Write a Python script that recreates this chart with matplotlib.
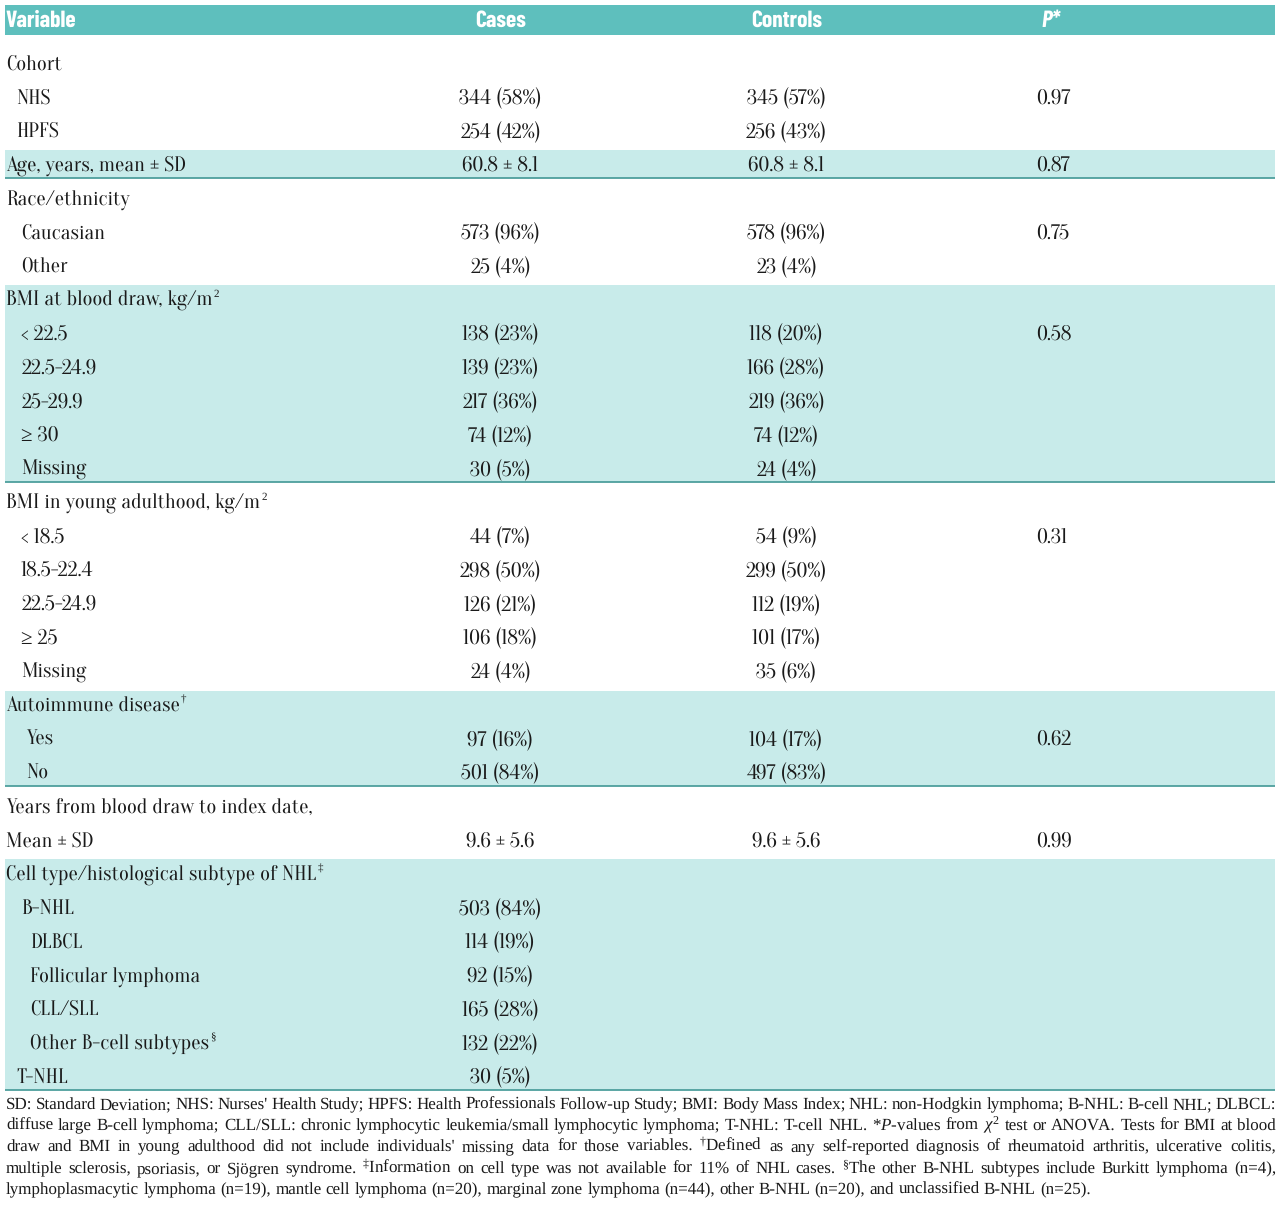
# coding: utf-8
"""
Table of case/control characteristics drawn with matplotlib text and patches.
"""
import matplotlib
matplotlib.use("Agg")
import matplotlib.pyplot as plt
from matplotlib.patches import Rectangle

plt.rcParams["mathtext.fontset"] = "custom"
plt.rcParams["mathtext.rm"] = "Liberation Serif"
plt.rcParams["mathtext.it"] = "Liberation Serif:italic"
plt.rcParams["mathtext.bf"] = "Liberation Serif:bold"
plt.rcParams["text.hinting"] = "no_hinting"   # keeps word baselines consistent
plt.rcParams["text.hinting_factor"] = 1

# ---- data ----
headers = ["Variable", "Cases", "Controls", "P*"]

labels = [
    "Cohort", "NHS", "HPFS",
    "Age, years, mean ± SD",
    "Race/ethnicity", "Caucasian", "Other",
    "BMI at blood draw, kg/m", "< 22.5", "22.5-24.9", "25-29.9", "≥ 30", "Missing",
    "BMI in young adulthood, kg/m", "< 18.5", "18.5-22.4", "22.5-24.9", "≥ 25", "Missing",
    "Autoimmune disease", "Yes", "No",
    "Years from blood draw to index date,", "Mean ± SD",
    "Cell type/histological subtype of NHL", "B-NHL", "DLBCL",
    "Follicular lymphoma", "CLL/SLL", "Other B-cell subtypes", "T-NHL",
]
label_sup = ["", "", "", "", "", "", "",
             "2", "", "", "", "", "",
             "2", "", "", "", "", "",
             "†", "", "", "", "",
             "‡", "", "", "", "", "§", ""]
indent_level = [0, 1, 1, 0, 0, 2, 2, 0, 2, 2, 2, 2, 2, 0, 2, 2, 2, 2, 2,
                0, 3, 3, 0, 0, 0, 2, 4, 4, 4, 4, 1]
cases = [
    "", "344 (58%)", "254 (42%)", "60.8 ± 8.1", "", "573 (96%)", "25 (4%)",
    "", "138 (23%)", "139 (23%)", "217 (36%)", "74 (12%)", "30 (5%)",
    "", "44 (7%)", "298 (50%)", "126 (21%)", "106 (18%)", "24 (4%)",
    "", "97 (16%)", "501 (84%)", "", "9.6 ± 5.6",
    "", "503 (84%)", "114 (19%)", "92 (15%)", "165 (28%)", "132 (22%)", "30 (5%)",
]
controls = [
    "", "345 (57%)", "256 (43%)", "60.8 ± 8.1", "", "578 (96%)", "23 (4%)",
    "", "118 (20%)", "166 (28%)", "219 (36%)", "74 (12%)", "24 (4%)",
    "", "54 (9%)", "299 (50%)", "112 (19%)", "101 (17%)", "35 (6%)",
    "", "104 (17%)", "497 (83%)", "", "9.6 ± 5.6",
    "", "", "", "", "", "", "",
]
pvalues = [
    "", "0.97", "", "0.87", "", "0.75", "",
    "", "0.58", "", "", "", "",
    "", "0.31", "", "", "", "",
    "", "0.62", "", "", "0.99",
    "", "", "", "", "", "", "",
]
# shaded groups (first row, last row)
shaded = [(3, 3), (7, 12), (19, 21), (24, 30)]

footnotes = [
    "SD: Standard Deviation; NHS: Nurses' Health Study; HPFS: Health Professionals "
    "Follow-up Study; BMI: Body Mass Index; NHL: non-Hodgkin lymphoma; B-NHL: B-cell NHL; DLBCL:",
    "diffuse large B-cell lymphoma; CLL/SLL: chronic lymphocytic leukemia/small lymphocytic "
    "lymphoma; T-NHL: T-cell NHL. *$P$-values from $\\chi^{2}$ test or ANOVA. Tests for BMI at blood",
    "draw and BMI in young adulthood did not include individuals' missing data for those "
    "variables. $^{\\dagger}$Defined as any self-reported diagnosis of rheumatoid arthritis, ulcerative colitis,",
    "multiple sclerosis, psoriasis, or Sjögren syndrome. $^{\\ddagger}$Information on cell type "
    "was not available for 11% of NHL cases. $^{\\S}$The other B-NHL subtypes include Burkitt lymphoma (n=4),",
    "lymphoplasmacytic lymphoma (n=19), mantle cell lymphoma (n=20), marginal zone lymphoma "
    "(n=44), other B-NHL (n=20), and unclassified B-NHL (n=25).",
]

# ---- style ----
W, H = 1280, 1208
HEAD_COLOR = "#5ebfbd"
BAND_COLOR = "#c8ebea"
LINE_COLOR = "#4e9f9d"
TEXT_COLOR = "#1a1a1a"
BODY_FONT = ["Oranienbaum", "Liberation Serif", "DejaVu Serif"]
NOTE_FONT = ["Liberation Serif", "DejaVu Serif"]
HEAD_FONT = ["Barlow Condensed", "Roboto Condensed", "Liberation Sans", "DejaVu Sans"]
X_LEFT, X_RIGHT = 5, 1275
X_CASES, X_CONTROLS, X_P = 500, 786, 1036
INDENT_PX = {0: 6, 1: 16, 2: 21, 3: 26, 4: 30}
ROW0, ROW_STEP = 61.0, 33.77
BASE_OFF = 8.5   # baseline below the row centre
MIN_GAP = 2.2    # smallest word gap allowed in the justified footnote


def row_y(i):
    return ROW0 + i * ROW_STEP


def text_width(fig, ax, s, fs, family, **kw):
    renderer = fig.canvas.get_renderer()
    t = ax.text(0, 0, s, family=family, fontsize=fs, **kw)
    w = t.get_window_extent(renderer).width
    t.remove()
    return w


def draw_table(fig, ax):
    # font sizes fitted to widths measured on the reference
    body_fs = 10 * 184 / text_width(fig, ax, "Age, years, mean ± SD", 10, BODY_FONT)
    head_fs = 10 * 71 / text_width(fig, ax, "Controls", 10, HEAD_FONT, weight="bold")

    # header band
    ax.add_patch(Rectangle((X_LEFT, 5), X_RIGHT - X_LEFT, 30, color=HEAD_COLOR, lw=0))
    hb = 27
    kw = dict(color="white", family=HEAD_FONT, weight="bold", fontsize=head_fs,
              va="baseline")
    ax.text(5, hb, headers[0], ha="left", **kw)
    ax.text(X_CASES + 1, hb, headers[1], ha="center", **kw)
    ax.text(X_CONTROLS + 1, hb, headers[2], ha="center", **kw)
    ax.text(1041, hb, headers[3], ha="left", style="italic", **kw)

    # shaded bands with a rule below each
    for first, last in shaded:
        top = row_y(first) - 12
        bottom = row_y(last) + 16
        ax.add_patch(Rectangle((X_LEFT, top), X_RIGHT - X_LEFT, bottom - top,
                               color=BAND_COLOR, lw=0))
        ax.plot([X_LEFT, X_RIGHT], [bottom, bottom], color=LINE_COLOR, lw=1.3,
                solid_capstyle="butt")

    kw = dict(family=BODY_FONT, fontsize=body_fs, color=TEXT_COLOR, va="baseline")
    for i, lab in enumerate(labels):
        y = row_y(i) + BASE_OFF
        x0 = INDENT_PX[indent_level[i]]
        ax.text(x0, y, lab, ha="left", **kw)
        if label_sup[i]:
            lw = text_width(fig, ax, lab, body_fs, BODY_FONT)
            ax.text(x0 + lw + 1, y - 9, label_sup[i], family=NOTE_FONT,
                    fontsize=body_fs * 0.5, color=TEXT_COLOR, va="baseline", ha="left")
        if cases[i]:
            ax.text(X_CASES, y, cases[i], ha="center", **kw)
        if controls[i]:
            ax.text(X_CONTROLS, y, controls[i], ha="center", **kw)
        if pvalues[i]:
            ax.text(X_P, y, pvalues[i], ha="left", **kw)


def draw_footnotes(fig, ax):
    # largest size that lets the last line end near x=1140 and keeps
    # every justified line's word gaps at least MIN_GAP wide
    fs0 = 12.0
    sizes = [fs0 * (1140 - X_LEFT) / text_width(fig, ax, footnotes[-1], fs0, NOTE_FONT)]
    for line in footnotes[:-1]:
        words = line.split(" ")
        total = sum(text_width(fig, ax, w, fs0, NOTE_FONT) for w in words)
        sizes.append(fs0 * (X_RIGHT - X_LEFT - MIN_GAP * (len(words) - 1)) / total)
    fs = min(sizes)
    space = (text_width(fig, ax, "a a", fs, NOTE_FONT)
             - text_width(fig, ax, "aa", fs, NOTE_FONT))

    ys = [1104, 1125, 1146, 1168, 1189]
    for k, line in enumerate(footnotes):
        words = line.split(" ")
        widths = [text_width(fig, ax, w, fs, NOTE_FONT) for w in words]
        if k < len(footnotes) - 1:
            gap = (X_RIGHT - X_LEFT - sum(widths)) / (len(words) - 1)
        else:
            gap = space
        x = X_LEFT + 1
        for w, wd in zip(words, widths):
            ax.text(x, ys[k] + 5, w, family=NOTE_FONT, fontsize=fs,
                    color=TEXT_COLOR, va="baseline", ha="left")
            x += wd + gap


def main():
    fig = plt.figure(figsize=(W / 100, H / 100), dpi=100)
    ax = fig.add_axes([0, 0, 1, 1])
    ax.set_xlim(0, W)
    ax.set_ylim(H, 0)
    ax.axis("off")

    draw_table(fig, ax)
    draw_footnotes(fig, ax)

    fig.savefig("out.png", dpi=100, facecolor="white")


if __name__ == "__main__":
    main()
